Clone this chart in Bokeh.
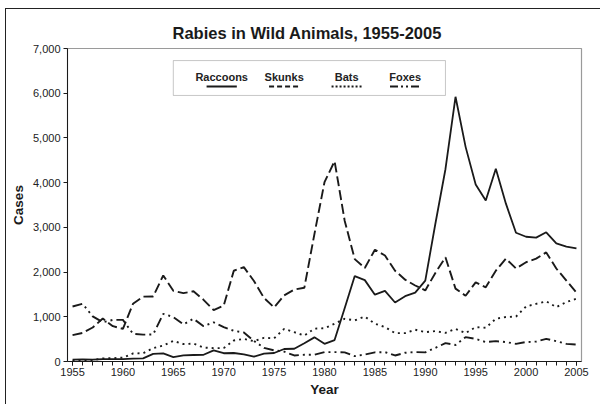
from bokeh.plotting import figure
from bokeh.models import Range1d, SingleIntervalTicker, NumeralTickFormatter, Label, BoxAnnotation, ColumnDataSource
from bokeh.embed import file_html
from bokeh.resources import INLINE

years = list(range(1955, 2006))

raccoons = [40, 45, 40, 55, 55, 55, 65, 70, 170, 180,
            100, 135, 145, 150, 250, 185, 190, 160, 110, 175,
            190, 280, 285, 410, 540, 395, 480, 1190, 1910, 1820,
            1495, 1580, 1320, 1460, 1540, 1810, 3080, 4300, 5920, 4800,
            3960, 3600, 4310, 3530, 2880, 2790, 2770, 2890, 2640, 2570,
            2530]

skunks = [590, 640, 760, 960, 790, 730, 1290, 1450, 1455, 1925,
          1580, 1530, 1570, 1380, 1150, 1250, 2030, 2110, 1800, 1420,
          1210, 1480, 1610, 1650, 2850, 4010, 4480, 3150, 2290, 2090,
          2500, 2370, 2030, 1830, 1700, 1590, 1980, 2330, 1630, 1470,
          1770, 1660, 2030, 2300, 2080, 2220, 2300, 2440, 2080, 1810,
          1540]

bats = [15, 20, 30, 70, 75, 85, 180, 185, 300, 355,
        460, 390, 400, 310, 300, 300, 470, 505, 455, 530,
        520, 730, 655, 580, 735, 745, 845, 955, 920, 1005,
        845, 770, 635, 635, 710, 655, 680, 640, 730, 635,
        770, 755, 955, 995, 1005, 1230, 1290, 1345, 1215, 1330,
        1405]

foxes = [1230, 1290, 1010, 880, 930, 930, 620, 600, 605, 1065,
         995, 830, 955, 790, 875, 770, 685, 650, 460, 305,
         250, 220, 135, 150, 150, 210, 210, 205, 120, 155,
         205, 210, 135, 195, 210, 205, 305, 410, 370, 545,
         505, 435, 455, 435, 395, 435, 445, 505, 455, 395,
         380]

series_names = ["Raccoons", "Skunks", "Bats", "Foxes"]
series_values = [raccoons, skunks, bats, foxes]
series_dash = ["solid", "10 4", "2 4", "10 4 2 4 2 4"]
legend_dash = ["solid", "5 3", "2 2", "8 3 2 3 2 3"]
series_width = [1.8, 1.9, 1.9, 1.9]

x_ticks_interval = 5
y_ticks_interval = 1000

INK = "#1a1a1a"
SANS = "Liberation Sans, Arial, sans-serif"

W, H = 600, 404
p = figure(width=W, height=H, output_backend="svg", toolbar_location=None,
           x_range=Range1d(1954.5, 2005.5), y_range=Range1d(0, 7000),
           min_border_left=67, min_border_right=19, min_border_top=48, min_border_bottom=43,
           background_fill_color="white", border_fill_color=None)
# outer frame (left and top edges, as in the reference)
p.styles = {"background": ("linear-gradient(#222,#222) 5px 8px / 1px 100% no-repeat, "
                           "linear-gradient(#222,#222) 5px 8px / 100% 1px no-repeat, white")}

p.title.text = "Rabies in Wild Animals, 1955-2005"
p.title.align = "left"
p.title.offset = 105
p.title.standoff = 14
p.title.text_font = SANS
p.title.text_font_size = "16.5px"
p.title.text_font_style = "bold"
p.title.text_color = INK

p.grid.visible = False
p.outline_line_color = "#9a9a9a"
p.outline_line_width = 1.2

# x axis
xa = p.xaxis[0]
xa.ticker = SingleIntervalTicker(interval=x_ticks_interval, num_minor_ticks=5)
xa.axis_label = "Year"
xa.axis_label_text_font = SANS
xa.axis_label_text_font_size = "13.5px"
xa.axis_label_text_font_style = "bold"
xa.axis_label_text_color = INK
xa.axis_label_standoff = 3
xa.major_label_text_font = SANS
xa.major_label_text_font_size = "11px"
xa.major_label_text_color = "#222"
xa.major_label_standoff = 2
xa.major_tick_out = 4
xa.major_tick_in = 0
xa.minor_tick_out = 4
xa.minor_tick_in = 0
xa.axis_line_color = INK
xa.major_tick_line_color = INK
xa.minor_tick_line_color = INK

# y axis
ya = p.yaxis[0]
ya.ticker = SingleIntervalTicker(interval=y_ticks_interval, num_minor_ticks=0)
ya.formatter = NumeralTickFormatter(format="0,0")
ya.axis_label = "Cases"
ya.axis_label_text_font = SANS
ya.axis_label_text_font_size = "13.5px"
ya.axis_label_text_font_style = "bold"
ya.axis_label_text_color = INK
ya.axis_label_standoff = 4
ya.major_label_text_font = SANS
ya.major_label_text_font_size = "11px"
ya.major_label_text_color = "#222"
ya.major_label_standoff = 3
ya.major_tick_out = 4
ya.major_tick_in = 0
ya.minor_tick_line_color = None
ya.axis_line_color = INK
ya.major_tick_line_color = INK

data = {"year": years}
for name, vals in zip(series_names, series_values):
    data[name] = vals
src = ColumnDataSource(data)

for name, dash, w in zip(series_names, series_dash, series_width):
    p.line("year", name, source=src, line_color=INK, line_width=w, line_dash=dash)

# legend (drawn manually: label above its line sample)
legend_left, legend_right = 1965.0, 1992.0
legend_bottom, legend_top = 5950, 6730
legend_centers = [1969.8, 1976.0, 1982.2, 1988.0]
legend_text_y = 6360
legend_sample_y = 6150
legend_half = 1.5

p.add_layout(BoxAnnotation(left=legend_left, right=legend_right, bottom=legend_bottom, top=legend_top,
                           fill_color="white", fill_alpha=1.0, line_color="#444", line_width=1,
                           level="underlay"))
for name, cx, dash in zip(series_names, legend_centers, legend_dash):
    p.add_layout(Label(x=cx, y=legend_text_y, text=name, text_align="center", text_baseline="middle",
                       text_font=SANS, text_font_size="11px", text_font_style="bold",
                       text_color="#222", level="overlay"))
    p.segment(x0=[cx - legend_half], y0=[legend_sample_y], x1=[cx + legend_half], y1=[legend_sample_y],
              line_color=INK, line_width=1.8, line_dash=dash)

open("out.html", "w").write(file_html(p, INLINE))
